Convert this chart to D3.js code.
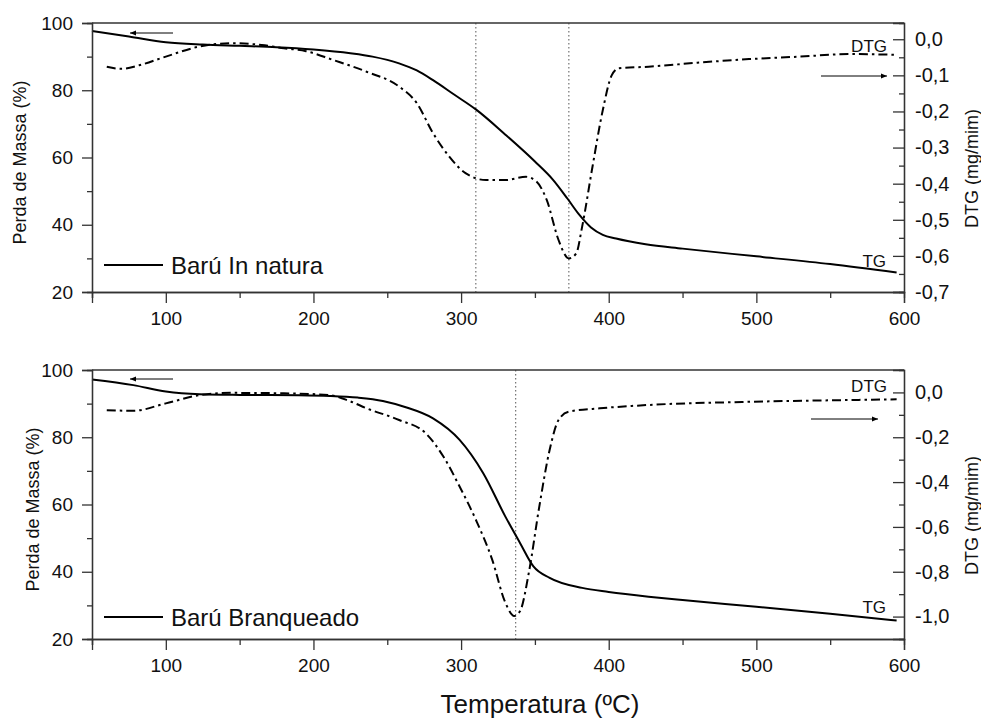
<!DOCTYPE html>
<html>
<head>
<meta charset="utf-8">
<script src="https://cdn.jsdelivr.net/npm/d3@7"></script>
<style>
  body { margin: 0; background: #fff; }
  svg { display: block; font-family: "Liberation Sans", Arial, sans-serif; }
</style>
</head>
<body>
<svg id="chart" width="981" height="718"></svg>
<script>
// TG / DTG curves
var tempNaturaTG = [50, 75, 100, 125, 150, 175, 200, 225, 240, 258, 270, 281, 295, 310, 330, 350, 362, 372, 380, 388, 396, 405, 425, 450, 500, 550, 595],
    massNaturaTG = [97.6, 96.0, 94.3, 93.6, 93.2, 92.8, 92.1, 91.0, 90.0, 88.0, 85.9, 83.0, 78.8, 74.3, 66.8, 58.8, 53.5, 47.8, 43.0, 39.2, 37.0, 35.9, 34.2, 32.9, 30.6, 28.3, 25.8];
var tempNaturaDTG = [60, 70, 82, 100, 123, 145, 165, 180, 195, 213, 236, 258, 270, 281, 292, 303, 317, 330, 344, 351, 358, 366, 373, 378, 382, 389, 396, 402, 407, 427, 460, 495, 530, 563, 595],
    dtgNatura = [-0.076, -0.082, -0.072, -0.048, -0.020, -0.011, -0.016, -0.025, -0.033, -0.057, -0.090, -0.131, -0.177, -0.260, -0.325, -0.371, -0.390, -0.390, -0.381, -0.394, -0.445, -0.556, -0.607, -0.593, -0.519, -0.353, -0.196, -0.100, -0.080, -0.076, -0.065, -0.055, -0.048, -0.041, -0.043];

var tempBranqTG = [50, 78, 100, 123, 150, 190, 211, 230, 247, 262, 281, 299, 315, 330, 340, 349, 360, 382, 400, 427, 450, 500, 550, 595],
    massBranqTG = [97.2, 95.5, 93.6, 92.8, 92.6, 92.5, 92.3, 91.8, 90.8, 89.0, 85.6, 79.2, 69.3, 56.4, 48.5, 41.6, 38.2, 35.2, 34.0, 32.6, 31.6, 29.6, 27.5, 25.5];
var tempBranqDTG = [60, 78, 100, 123, 145, 180, 211, 225, 236, 258, 276, 288, 299, 310, 321, 330, 336, 340, 346, 353, 360, 366, 373, 394, 427, 495, 563, 595],
    dtgBranq = [-0.079, -0.082, -0.049, -0.012, -0.002, -0.004, -0.012, -0.040, -0.071, -0.123, -0.182, -0.286, -0.420, -0.568, -0.745, -0.938, -0.997, -0.975, -0.800, -0.508, -0.256, -0.123, -0.086, -0.071, -0.056, -0.042, -0.034, -0.031];

var xMajor = [100, 200, 300, 400, 500, 600],
    xMinor = [50, 150, 250, 350, 450, 550],
    massMajor = [20, 40, 60, 80, 100],
    massMinor = [30, 50, 70, 90],
    dtgMajorNatura = [0, -0.1, -0.2, -0.3, -0.4, -0.5, -0.6, -0.7],
    dtgMinorNatura = [-0.05, -0.15, -0.25, -0.35, -0.45, -0.55, -0.65],
    dtgMajorBranq = [0, -0.2, -0.4, -0.6, -0.8, -1.0],
    dtgMinorBranq = [-0.1, -0.3, -0.5, -0.7, -0.9];

var peaksNatura = [310, 373],
    peaksBranq = [337],
    legendNames = ["Barú In natura", "Barú Branqueado"];

var left = 92, right = 904,
    fmt = d3.formatLocale({decimal: ",", thousands: ".", grouping: [3], currency: ["", ""], minus: "-"}).format(".1f"),
    svg = d3.select("#chart");

var x = d3.scaleLinear().domain([50, 600]).range([left, right]);

svg.append("defs").append("marker")
  .attr("id", "head")
  .attr("viewBox", "0 0 10 10")
  .attr("refX", 10).attr("refY", 5)
  .attr("markerWidth", 13).attr("markerHeight", 6)
  .attr("markerUnits", "userSpaceOnUse")
  .attr("orient", "auto")
  .append("path").attr("d", "M0,1 L10,5 L0,9 Z").attr("fill", "#000");

function pairs(t, v){
  return t.map(function(d, i){ return [d, v[i]]; });
}

function drawPanel(p){
  var yL = d3.scaleLinear().domain([20, 100]).range([p.bottom, p.top]),
      yR = d3.scaleLinear().domain(p.dtgDomain).range([p.bottom, p.top]),
      g = svg.append("g");

  // peak markers
  g.selectAll(".peak")
    .data(p.peaks)
    .enter().append("line")
      .attr("x1", function(d){ return x(d); })
      .attr("x2", function(d){ return x(d); })
      .attr("y1", p.top).attr("y2", p.bottom)
      .attr("stroke", "#555").attr("stroke-width", 1)
      .attr("stroke-dasharray", "1.5,2.5");

  //DTG line
  g.append("path")
    .datum(pairs(p.dtgT, p.dtgV))
    .attr("fill", "none").attr("stroke", "#000").attr("stroke-width", 2)
    .attr("stroke-dasharray", "9,4,2.5,4")
    .attr("d", d3.line().curve(d3.curveMonotoneX)
      .x(function(d){ return x(d[0]); })
      .y(function(d){ return yR(d[1]); }));

  //TG line
  g.append("path")
    .datum(pairs(p.tgT, p.tgV))
    .attr("fill", "none").attr("stroke", "#000").attr("stroke-width", 2)
    .attr("d", d3.line().curve(d3.curveMonotoneX)
      .x(function(d){ return x(d[0]); })
      .y(function(d){ return yL(d[1]); }));

  // frame top
  g.append("line")
    .attr("x1", left).attr("x2", right).attr("y1", p.top).attr("y2", p.top)
    .attr("stroke", "#333").attr("stroke-width", 1.3);

  //x axis
  g.append("g").attr("class", "axis")
    .attr("transform", "translate(0," + p.bottom + ")")
    .call(d3.axisBottom(x).tickValues(xMajor).tickSize(11).tickPadding(9).tickFormat(d3.format("d")));
  g.append("g").attr("class", "axis minor")
    .attr("transform", "translate(0," + p.bottom + ")")
    .call(d3.axisBottom(x).tickValues(xMinor).tickSize(6).tickFormat(""));

  //left axis
  g.append("g").attr("class", "axis")
    .attr("transform", "translate(" + left + ",0)")
    .call(d3.axisLeft(yL).tickValues(massMajor).tickSize(10).tickPadding(9).tickFormat(d3.format("d")));
  g.append("g").attr("class", "axis minor")
    .attr("transform", "translate(" + left + ",0)")
    .call(d3.axisLeft(yL).tickValues(massMinor).tickSize(5).tickFormat(""));

  //right axis, ticks pointing in
  g.append("g").attr("class", "axis right")
    .attr("transform", "translate(" + right + ",0)")
    .call(d3.axisRight(yR).tickValues(p.dtgMajor).tickSize(-11).tickPadding(11).tickFormat(fmt));
  g.append("g").attr("class", "axis minor")
    .attr("transform", "translate(" + right + ",0)")
    .call(d3.axisRight(yR).tickValues(p.dtgMinor).tickSize(-5).tickFormat(""));

  g.selectAll(".axis .domain").attr("stroke", "#333").attr("stroke-width", 1.3);
  g.selectAll(".axis line").attr("stroke", "#333").attr("stroke-width", 1.3);
  g.selectAll(".axis text").attr("fill", "#111").style("font-size", "19px");
  g.selectAll(".axis.right text").style("font-size", "20px");

  //axis titles
  g.append("text")
    .attr("transform", "translate(" + p.leftTitleX + "," + ((p.top + p.bottom) / 2 + 5) + ") rotate(-90)")
    .attr("text-anchor", "middle").style("font-size", "18px").attr("fill", "#111")
    .text("Perda de Massa (%)");
  g.append("text")
    .attr("transform", "translate(978," + ((p.top + p.bottom) / 2 + 11) + ") rotate(-90)")
    .attr("text-anchor", "middle").style("font-size", "18px").attr("fill", "#111")
    .text("DTG (mg/mim)");

  //curve labels
  g.append("text").attr("x", 887).attr("y", p.dtgLabelY)
    .attr("text-anchor", "end").style("font-size", "17px").attr("fill", "#111").text("DTG");
  g.append("text").attr("x", 886).attr("y", p.tgLabelY)
    .attr("text-anchor", "end").style("font-size", "17px").attr("fill", "#111").text("TG");

  //arrows
  g.append("line")
    .attr("x1", 173).attr("x2", 130).attr("y1", p.arrowL).attr("y2", p.arrowL)
    .attr("stroke", "#000").attr("stroke-width", 1).attr("marker-end", "url(#head)");
  g.append("line")
    .attr("x1", p.arrowRx[0]).attr("x2", p.arrowRx[1]).attr("y1", p.arrowR).attr("y2", p.arrowR)
    .attr("stroke", "#000").attr("stroke-width", 1).attr("marker-end", "url(#head)");

  //legend
  g.append("line")
    .attr("x1", 104).attr("x2", 163).attr("y1", p.legendY).attr("y2", p.legendY)
    .attr("stroke", "#000").attr("stroke-width", 2);
  g.append("text").attr("x", 171).attr("y", p.legendY + 9)
    .style("font-size", "24px").attr("fill", "#111").text(p.name);
}

drawPanel({
  top: 23, bottom: 292, dtgDomain: [-0.7, 0.045],
  tgT: tempNaturaTG, tgV: massNaturaTG, dtgT: tempNaturaDTG, dtgV: dtgNatura,
  dtgMajor: dtgMajorNatura, dtgMinor: dtgMinorNatura, peaks: peaksNatura,
  leftTitleX: 26, dtgLabelY: 52, tgLabelY: 267,
  arrowL: 33, arrowR: 76, arrowRx: [821, 887], legendY: 265, name: legendNames[0]
});

drawPanel({
  top: 370, bottom: 639, dtgDomain: [-1.1, 0.1],
  tgT: tempBranqTG, tgV: massBranqTG, dtgT: tempBranqDTG, dtgV: dtgBranq,
  dtgMajor: dtgMajorBranq, dtgMinor: dtgMinorBranq, peaks: peaksBranq,
  leftTitleX: 39, dtgLabelY: 392, tgLabelY: 613,
  arrowL: 379, arrowR: 419, arrowRx: [811, 878], legendY: 617, name: legendNames[1]
});

svg.append("text")
  .attr("x", 540).attr("y", 713)
  .attr("text-anchor", "middle").style("font-size", "26px").attr("fill", "#111")
  .text("Temperatura (ºC)");
</script>
</body>
</html>
